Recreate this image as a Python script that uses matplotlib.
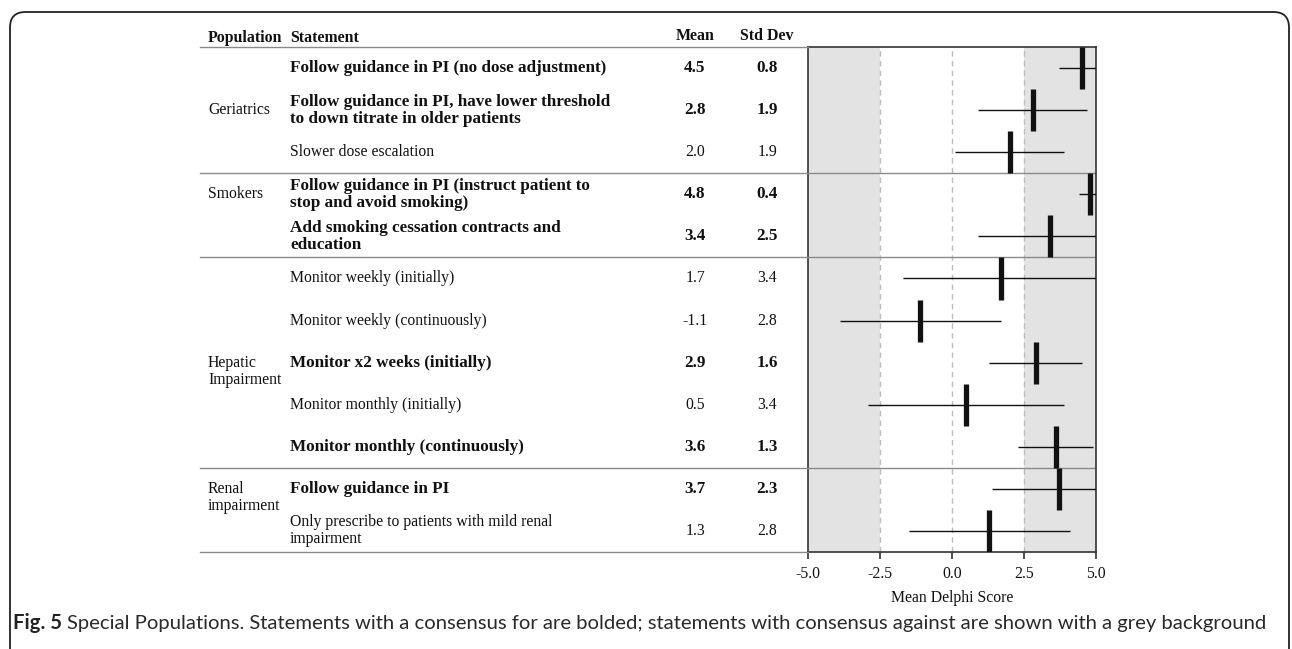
import numpy as np
import matplotlib.pyplot as plt
from matplotlib.patches import FancyBboxPatch

plt.rcParams['font.family'] = ['Liberation Serif', 'DejaVu Serif']
plt.rcParams['axes.unicode_minus'] = False

# table data
populations = ["Geriatrics", "Smokers", "Hepatic\nImpairment", "Renal\nimpairment"]
group_sizes = [3, 2, 5, 2]
label_rows = [1, 0, 2, 0]   # row inside each group where the population name sits

statements = [
    "Follow guidance in PI (no dose adjustment)",
    "Follow guidance in PI, have lower threshold\nto down titrate in older patients",
    "Slower dose escalation",
    "Follow guidance in PI (instruct patient to\nstop and avoid smoking)",
    "Add smoking cessation contracts and\neducation",
    "Monitor weekly (initially)",
    "Monitor weekly (continuously)",
    "Monitor x2 weeks (initially)",
    "Monitor monthly (initially)",
    "Monitor monthly (continuously)",
    "Follow guidance in PI",
    "Only prescribe to patients with mild renal\nimpairment",
]
means = [4.5, 2.8, 2.0, 4.8, 3.4, 1.7, -1.1, 2.9, 0.5, 3.6, 3.7, 1.3]
sds = [0.8, 1.9, 1.9, 0.4, 2.5, 3.4, 2.8, 1.6, 3.4, 1.3, 2.3, 2.8]
consensus_for = [True, True, False, True, True, False, False, True, False, True, True, False]

xticks = [-5.0, -2.5, 0.0, 2.5, 5.0]

W, H = 1292, 649
fig = plt.figure(figsize=(W / 100, H / 100), dpi=100)

n = len(statements)
bottom = 1 - 552 / H
height = 505 / H
ax = fig.add_axes([808 / W, bottom, 288 / W, height])
tab = fig.add_axes([200 / W, bottom, 608 / W, height])
tab.set_xlim(200, 808)
tab.set_ylim(n, 0)
tab.axis('off')

fs = 11.3       # regular table text
fsb = 12.3      # bold table text
fsh = 11.4      # column headers
ls = 1.08
tc = '#111111'
grey_line = '#8a8a8a'

# header
hy = -0.22
tab.text(208, hy, "Population", fontsize=fsh, fontweight='bold', color=tc, va='center', clip_on=False)
tab.text(290, hy, "Statement", fontsize=fsh, fontweight='bold', color=tc, va='center', clip_on=False)
tab.text(695, hy - 0.05, "Mean", fontsize=fsh, fontweight='bold', color=tc, va='center', ha='center', clip_on=False)
tab.text(767, hy - 0.05, "Std Dev", fontsize=fsh, fontweight='bold', color=tc, va='center', ha='center', clip_on=False)

# rows
for i in range(n):
    bold = consensus_for[i]
    kw = dict(fontsize=fsb if bold else fs, fontweight='bold' if bold else 'normal',
              color=tc, va='center')
    yc = i + 0.5
    tab.text(290, yc, statements[i], linespacing=ls, **kw)
    tab.text(695, yc, f"{means[i]:.1f}", ha='center', **kw)
    tab.text(767, yc, f"{sds[i]:.1f}", ha='center', **kw)

# population names and group separators
start = 0
bounds = [0]
for name, size, lr in zip(populations, group_sizes, label_rows):
    tab.text(208, start + lr + 0.5 - 0.19, name, fontsize=fs, color=tc, va='top', linespacing=ls)
    start += size
    bounds.append(start)
for b in bounds:
    tab.plot([200, 808], [b, b], color=grey_line, lw=1, clip_on=False)

# score plot
ax.set_xlim(-5, 5)
ax.set_ylim(n, 0)
ax.axvspan(-5, -2.5, color='#e3e3e3', lw=0, zorder=0)
ax.axvspan(2.5, 5, color='#e3e3e3', lw=0, zorder=0)
for x in [-2.5, 0, 2.5]:
    ax.axvline(x, color='#bdbdbd', lw=1, ls=(0, (4, 3)), zorder=1)
for b in bounds[1:-1]:
    ax.axhline(b, color=grey_line, lw=1, zorder=1)

rows = np.arange(n)
m = np.array(means)
s = np.array(sds)
ax.hlines(rows + 0.5, m - s, m + s, color='#111111', lw=1.0, zorder=3)
ax.vlines(m, rows, rows + 1, color='#111111', lw=3.8, zorder=4)

for sp in ax.spines.values():
    sp.set_color('#333333')
    sp.set_linewidth(1.2)
ax.set_yticks([])
ax.set_xticks(xticks)
ax.set_xticklabels([f"{t:.1f}" for t in xticks])
ax.tick_params(axis='x', length=5, width=1.2, color='#333333', labelsize=fs, labelcolor=tc, pad=5)
ax.set_xlabel("Mean Delphi Score", fontsize=fs, color=tc, labelpad=6)

# caption
cy = 1 - 623 / H
cap_font = ['Lato', 'DejaVu Sans']
t1 = fig.text(13 / W, cy, "Fig. 5", fontsize=14.55, fontweight='bold', family=cap_font, color='#222222', va='center')
fig.canvas.draw()
bb = t1.get_window_extent()
fig.text((bb.x1 + 5) / W, cy,
         "Special Populations. Statements with a consensus for are bolded; "
         "statements with consensus against are shown with a grey background",
         fontsize=14.55, family=cap_font, color='#2a2a2a', va='center')

# frame around the figure
frame = FancyBboxPatch((10 / W, -0.1), 1279 / W, 0.1 + (1 - 12 / H),
                       boxstyle="round,pad=0,rounding_size=0.012",
                       transform=fig.transFigure, fill=False,
                       ec='#222222', lw=1.3, mutation_aspect=W / H)
fig.patches.append(frame)

fig.savefig("out.png", dpi=100)
